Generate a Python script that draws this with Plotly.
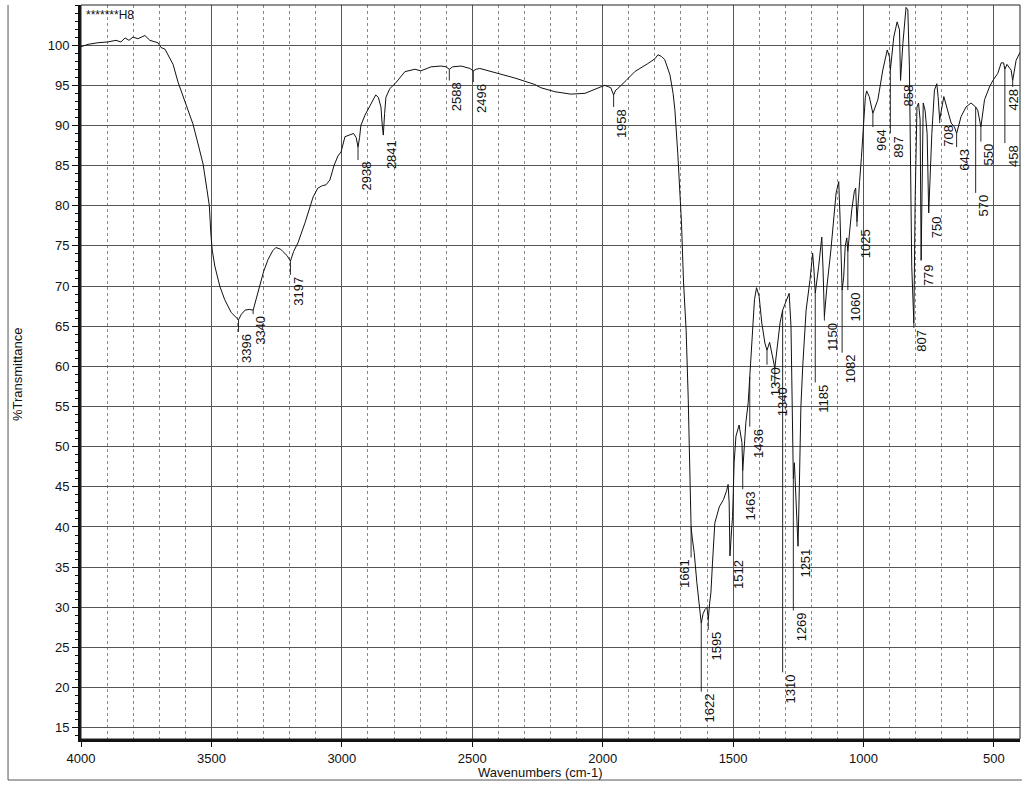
import numpy as np
import plotly.graph_objects as go

# ---------------- data ----------------
wavenumber = [4000, 3973, 3935, 3897, 3866, 3847, 3831, 3816, 3801, 3782, 3755, 3736, 3705, 3693,
              3678, 3663, 3647, 3628, 3601, 3571, 3552, 3532, 3517, 3508, 3502, 3497, 3487, 3468,
              3449, 3424, 3396, 3385, 3371, 3355, 3340, 3328, 3314, 3300, 3283, 3265, 3253, 3235,
              3226, 3210, 3197, 3185, 3168, 3141, 3110, 3092, 3075, 3061, 3046, 3030, 3015, 3003,
              2988, 2969, 2955, 2945, 2938, 2932, 2927, 2911, 2888, 2870, 2860, 2850, 2845, 2841,
              2836, 2831, 2816, 2796, 2758, 2720, 2697, 2658, 2620, 2600, 2588, 2575, 2543, 2509,
              2496, 2485, 2471, 2413, 2336, 2260, 2237, 2183, 2122, 2068, 2030, 1992, 1969, 1958,
              1950, 1942, 1910, 1877, 1827, 1800, 1788, 1775, 1762, 1742, 1730, 1723, 1712, 1705,
              1698, 1690, 1680, 1672, 1666, 1661, 1656, 1649, 1639, 1630, 1622, 1615, 1608, 1600,
              1595, 1590, 1585, 1579, 1570, 1553, 1537, 1525, 1519, 1515, 1512, 1506, 1502, 1496,
              1489, 1477, 1470, 1466, 1463, 1458, 1451, 1442, 1436, 1432, 1425, 1418, 1410, 1400,
              1390, 1378, 1370, 1360, 1340, 1330, 1320, 1310, 1297, 1285, 1278, 1273, 1269, 1265,
              1260, 1255, 1251, 1246, 1240, 1233, 1220, 1205, 1195, 1190, 1185, 1172, 1160, 1155,
              1150, 1140, 1125, 1105, 1095, 1090, 1082, 1076, 1070, 1064, 1060, 1054, 1045, 1035,
              1030, 1025, 1020, 1015, 1008, 1000, 993, 988, 978, 964, 945, 926, 909, 900, 897, 884,
              871, 862, 858, 849, 837, 830, 824, 815, 807, 802, 795, 789, 783, 779, 771, 764, 756,
              750, 738, 728, 719, 714, 708, 692, 677, 664, 651, 643, 626, 607, 588, 570, 562, 550,
              536, 517, 504, 485, 472, 463, 458, 450, 434, 428, 415, 400]
transmittance = [99.8, 100.1, 100.3, 100.4, 100.6, 100.4, 100.9, 100.6, 101.0, 100.8, 101.2, 100.6,
                 100.3, 99.7, 99.5, 98.5, 97.6, 95.4, 93.0, 90.2, 87.8, 85.2, 82.0, 80.0, 76.5, 74.5,
                 72.5, 70.0, 68.3, 66.7, 65.8, 66.5, 67.0, 67.1, 67.0, 68.5, 70.0, 71.8, 73.3, 74.4,
                 74.8, 74.6, 74.3, 73.8, 73.1, 74.3, 75.4, 77.9, 81.1, 82.2, 82.5, 82.6, 83.2, 85.0,
                 86.2, 86.7, 88.6, 88.8, 89.0, 88.5, 87.3, 88.5, 90.0, 91.3, 92.8, 93.8, 93.5, 92.3,
                 90.0, 88.8, 91.5, 93.5, 94.6, 95.2, 96.7, 97.0, 96.8, 97.3, 97.4, 97.3, 97.0, 97.3,
                 97.4, 97.1, 96.8, 97.0, 97.1, 96.6, 95.9, 95.1, 94.7, 94.2, 93.9, 94.0, 94.5, 95.0,
                 94.7, 93.8, 94.4, 94.6, 95.6, 96.7, 97.7, 98.3, 98.8, 98.6, 98.2, 96.3, 94.0, 91.9,
                 86.5, 82.5, 78.0, 70.5, 64.5, 56.0, 48.0, 40.0, 38.5, 36.8, 33.1, 30.1, 28.0, 29.2,
                 29.7, 30.0, 28.5, 30.5, 31.8, 35.5, 40.5, 42.5, 43.4, 44.5, 45.3, 43.0, 36.4, 39.5,
                 41.3, 48.0, 51.3, 52.7, 51.5, 50.5, 47.0, 50.0, 53.0, 55.5, 58.7, 61.0, 65.0, 68.3,
                 69.8, 68.7, 65.4, 62.9, 62.0, 63.0, 59.8, 62.9, 65.4, 67.0, 68.0, 69.1, 65.0, 57.0,
                 46.0, 48.0, 44.0, 40.0, 37.6, 45.0, 55.0, 60.0, 67.0, 70.8, 74.1, 72.0, 69.1, 72.4,
                 76.1, 72.0, 66.2, 70.0, 74.5, 81.6, 83.0, 78.6, 69.5, 71.1, 75.0, 76.0, 74.3, 76.5,
                 79.5, 81.8, 82.2, 78.0, 80.0, 83.0, 86.0, 90.5, 93.5, 94.3, 93.6, 91.5, 93.2, 96.9,
                 99.4, 98.5, 96.9, 101.0, 102.9, 101.9, 95.6, 100.2, 104.7, 104.4, 97.3, 72.4, 65.4,
                 80.7, 92.3, 92.8, 90.7, 73.2, 92.8, 91.9, 89.0, 79.1, 89.0, 94.4, 95.2, 93.6, 90.7,
                 93.6, 91.9, 90.3, 89.8, 89.0, 91.1, 92.3, 92.8, 92.3, 91.9, 89.8, 93.2, 94.8, 95.6,
                 96.5, 97.8, 97.8, 97.0, 97.6, 96.9, 95.6, 98.1, 99.1]

# peak labels (value shown) and %T at the top end of each label
peak_labels = ["3396", "3340", "3197", "2938", "2841", "2588", "2496", "1958", "1661", "1622",
               "1595", "1512", "1463", "1436", "1370", "1340", "1310", "1269", "1251", "1185",
               "1150", "1082", "1060", "1025", "964", "897", "858", "807", "779", "750", "708",
               "643", "570", "550", "458", "428"]
label_top_T = [64.3, 66.5, 71.4, 85.7, 88.4, 95.6, 95.4, 92.3, 36.2, 19.5,
               27.2, 36.2, 44.7, 52.5, 60.2, 57.7, 21.9, 29.6, 37.5, 58.0,
               65.7, 61.7, 69.5, 77.4, 89.8, 89.0, 95.3, 64.8, 73.0, 78.9, 90.3,
               87.3, 81.6, 88.0, 87.8, 94.8]
label_shift_left = ["1661"]
label_shift_small = ["428"]

x_ticks = [4000, 3500, 3000, 2500, 2000, 1500, 1000, 500]
y_ticks = list(range(15, 101, 5))
sample_name = "*******H8"

# ---------------- figure ----------------
FONT = "Liberation Sans, Arial, sans-serif"
fig = go.Figure()

fig.add_trace(go.Scatter(x=wavenumber, y=transmittance, mode="lines",
                         line=dict(color="#111111", width=1), hoverinfo="skip",
                         showlegend=False))

wn_sorted = np.array(wavenumber[::-1], dtype=float)
t_sorted = np.array(transmittance[::-1], dtype=float)
lead_x, lead_y = [], []
for lab, ltop in zip(peak_labels, label_top_T):
    w = float(lab)
    pt = float(np.interp(w, wn_sorted, t_sorted))
    if pt - ltop > 0.4:
        lead_x += [w, w, None]
        lead_y += [pt, ltop, None]
fig.add_trace(go.Scatter(x=lead_x, y=lead_y, mode="lines",
                         line=dict(color="#111111", width=0.9), hoverinfo="skip",
                         showlegend=False))

for lab, ltop in zip(peak_labels, label_top_T):
    if lab in label_shift_left:
        xs = -7
    elif lab in label_shift_small:
        xs = 1
    else:
        xs = 8
    fig.add_annotation(x=float(lab), y=ltop, text=lab, textangle=-90, showarrow=False,
                       xanchor="center", yanchor="top", xshift=xs,
                       font=dict(family=FONT, size=13, color="#111111"))

fig.add_annotation(xref="paper", yref="paper", x=0, y=1, xanchor="left", yanchor="top",
                   xshift=3, yshift=-1, text=sample_name, showarrow=False,
                   font=dict(family=FONT, size=12, color="#111111"))
fig.add_annotation(xref="paper", yref="paper", x=0.489, y=-0.046, xanchor="center",
                   yanchor="middle", text="Wavenumbers (cm-1)", showarrow=False,
                   font=dict(family=FONT, size=13, color="#111111"))
fig.add_annotation(xref="paper", yref="paper", x=-0.067, y=0.496, xanchor="center",
                   yanchor="middle", text="%Transmittance", textangle=-90, showarrow=False,
                   font=dict(family=FONT, size=13, color="#111111"))

# plot frame (thin) and outer scan border
fig.add_shape(type="rect", xref="paper", yref="paper", x0=0, y0=0, x1=1, y1=1,
              line=dict(color="#222222", width=1), layer="above")
fig.add_shape(type="line", xref="paper", yref="paper", x0=-0.0777, y0=-0.0559, x1=-0.0777, y1=1,
              line=dict(color="#555555", width=1))
fig.add_shape(type="line", xref="paper", yref="paper", x0=-0.0777, y0=-0.0559, x1=1.002, y1=-0.0559,
              line=dict(color="#555555", width=1))

fig.update_xaxes(range=[4000, 400], tickmode="array", tickvals=x_ticks,
                 ticktext=[str(v) for v in x_ticks], ticks="outside", ticklen=5,
                 tickcolor="#111111", showline=True, linewidth=3, linecolor="#111111",
                 showgrid=True, gridcolor="#555555", gridwidth=1, zeroline=False,
                 automargin=False,
                 minor=dict(dtick=100, tick0=0, showgrid=True, griddash="dot",
                            gridcolor="#888888", gridwidth=1),
                 tickfont=dict(family=FONT, size=13, color="#111111"))
fig.update_yaxes(range=[13.6, 105], tickmode="array", tickvals=y_ticks,
                 ticktext=[str(v) for v in y_ticks], ticks="outside", ticklen=6,
                 tickcolor="#111111", showline=True, linewidth=3, linecolor="#111111",
                 showgrid=True, gridcolor="#555555", gridwidth=1, zeroline=False,
                 automargin=False,
                 minor=dict(dtick=1, tick0=0, ticks="outside", ticklen=3,
                            tickcolor="#111111", showgrid=False),
                 tickfont=dict(family=FONT, size=13, color="#111111"))

fig.update_layout(width=1027, height=787, margin=dict(l=81, r=7, t=5, b=48),
                  paper_bgcolor="white", plot_bgcolor="white", showlegend=False)

fig.write_html("out.html", config={"displayModeBar": False},
               post_script="document.body.style.margin='0px';document.body.style.overflow='hidden';")
